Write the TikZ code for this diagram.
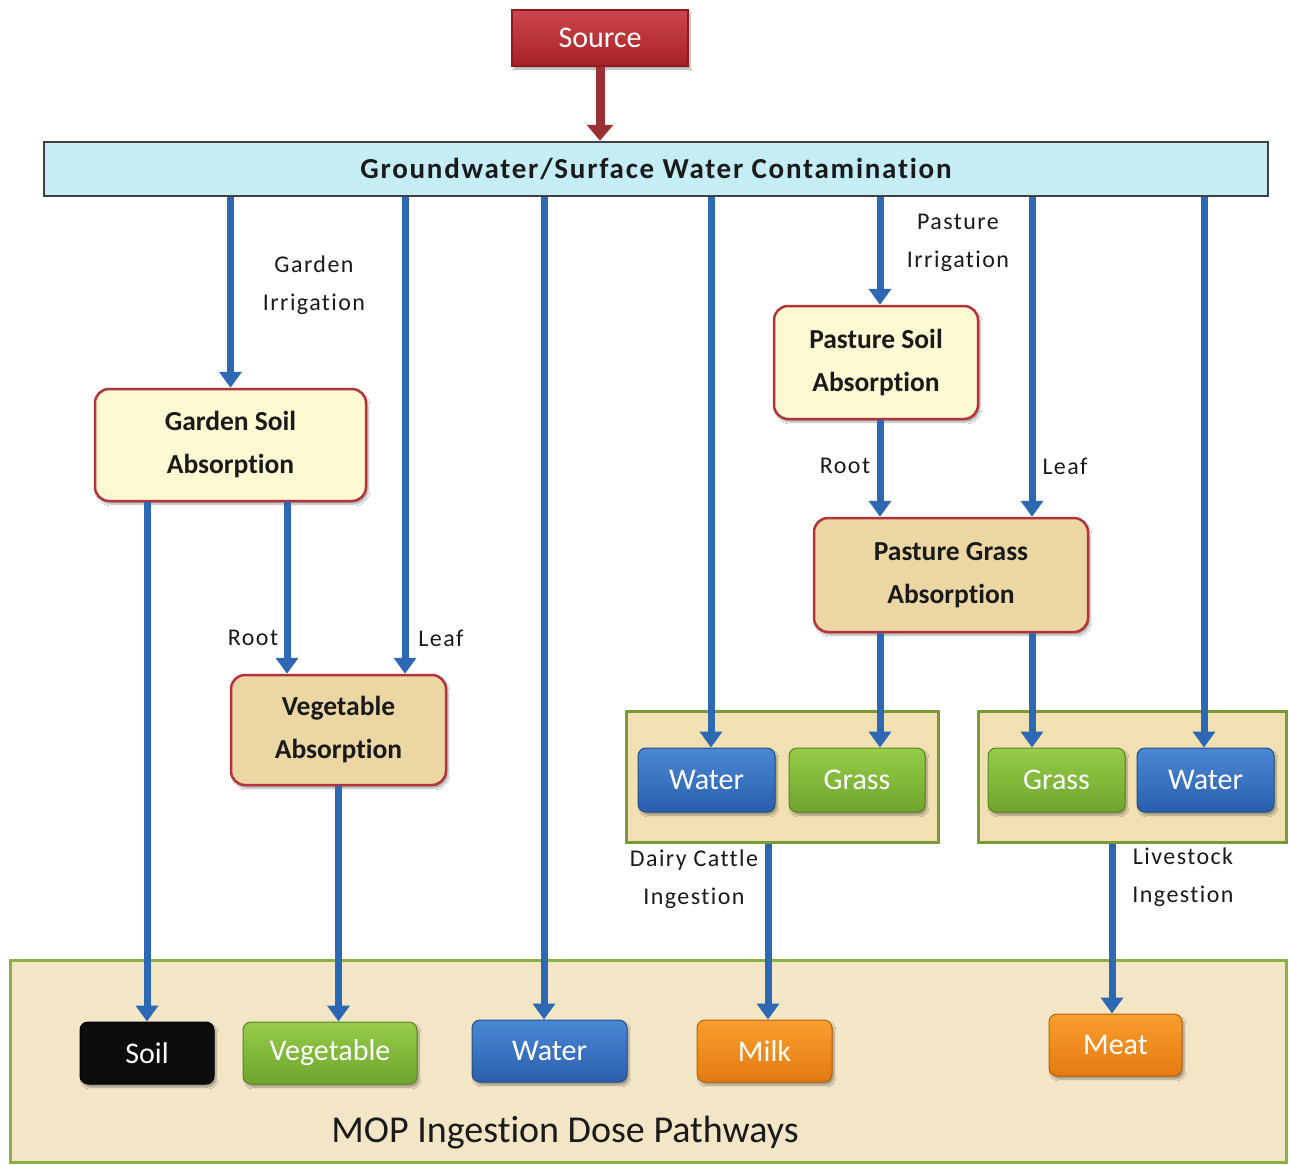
\documentclass[tikz,border=0pt]{standalone}
\usepackage{fontspec}
\setmainfont[Ligatures=NoCommon]{Carlito}
\newfontfamily\lblfont[LetterSpace=6,Ligatures=NoCommon]{Carlito}
\usetikzlibrary{arrows.meta,shadows.blur}
\definecolor{srcred}{HTML}{C4262E}
\definecolor{srcdark}{HTML}{8E1A1F}
\definecolor{gwfill}{HTML}{C4EDF5}
\definecolor{yelfill}{HTML}{FCF9D3}
\definecolor{tanfill}{HTML}{EBD6A4}
\definecolor{redline}{HTML}{B4323A}
\definecolor{grpfill}{HTML}{F0E0B2}
\definecolor{grpline}{HTML}{7A9A35}
\definecolor{botfill}{HTML}{F3E6C6}
\definecolor{botline}{HTML}{8BB043}
\definecolor{bluetop}{HTML}{4A88D4}
\definecolor{bluebot}{HTML}{2A5FAE}
\definecolor{greentop}{HTML}{96CC48}
\definecolor{greenbot}{HTML}{6FA52E}
\definecolor{orangetop}{HTML}{FA9E2E}
\definecolor{orangebot}{HTML}{E37A10}
\definecolor{arrblue}{HTML}{2C68B4}
\definecolor{txt}{HTML}{1A1A1A}
\tikzset{
  shd/.style={blur shadow={shadow blur steps=6,shadow xshift=2pt,shadow yshift=-3pt,shadow opacity=35}},
  absbox/.style={draw=redline,line width=2.5pt,rounded corners=14pt,align=center,text=txt,
     font=\bfseries\fontsize{27.5}{43}\selectfont,inner sep=0pt,shd},
  yelbox/.style={absbox,fill=yelfill},
  tanbox/.style={absbox,fill=tanfill},
  grpbox/.style={draw=grpline,line width=3pt,fill=grpfill,inner sep=0pt},
  pill/.style={rounded corners=8pt,text=white,font=\fontsize{30}{32}\selectfont,inner sep=0pt,
     minimum width=137pt,minimum height=64pt,shd},
  bluebox/.style={pill,top color=bluetop,bottom color=bluebot,draw=bluebot!80!black,line width=1pt},
  greenbox/.style={pill,top color=greentop,bottom color=greenbot,draw=greenbot!80!black,line width=1pt},
  orangebox/.style={pill,top color=orangetop,bottom color=orangebot,draw=orangebot!80!black,line width=1pt},
  blackbox/.style={pill,fill=black!95,draw=black,line width=1pt},
  arr/.style={draw=arrblue,line width=7pt,-{Triangle[width=22pt,length=16pt]}},
  redarr/.style={draw=srcdark!90,line width=9pt,-{Triangle[width=26pt,length=16pt]}},
  lbl/.style={align=center,text=txt,font=\lblfont\fontsize{24}{38}\selectfont,inner sep=0pt},
}
\begin{document}
\begin{tikzpicture}[x=1pt,y=-1pt]
\useasboundingbox[fill=white] (0,0) rectangle (1289,1164);

% Bottom container
\node[draw=botline,line width=3pt,fill=botfill,minimum width=1276pt,minimum height=202pt,inner sep=0pt] (bottom) at (648,1061) {};
\node[text=txt,font=\fontsize{38}{42}\selectfont,inner sep=0pt] (mop) at (565,1133) {MOP Ingestion Dose Pathways};

% Source
\node[top color=srcred!85!white,bottom color=srcred!85!black,draw=srcdark,line width=2pt,
      minimum width=176pt,minimum height=56pt,inner sep=0pt,text=white,
      font=\fontsize{30}{32}\selectfont,shd] (src) at (600,38) {Source};

% Groundwater bar
\node[draw=black!75,line width=2.5pt,fill=gwfill,minimum width=1224pt,minimum height=54pt,inner sep=0pt,
      text=txt,font=\bfseries\lblfont\fontsize{29}{32}\selectfont] (gw) at (656,169) {Groundwater/Surface Water Contamination};

% Absorption boxes
\node[yelbox,minimum width=271pt,minimum height=112pt] (gsoil) at (230.5,445) {Garden Soil\\Absorption};
\node[tanbox,minimum width=215pt,minimum height=110pt] (vegabs) at (338.5,730) {Vegetable\\Absorption};
\node[yelbox,minimum width=204pt,minimum height=113pt] (psoil) at (876,362.5) {Pasture Soil\\Absorption};
\node[tanbox,minimum width=274pt,minimum height=114pt] (pgrass) at (951,575) {Pasture Grass\\Absorption};

% Group boxes
\node[grpbox,minimum width=312pt,minimum height=131pt] (dairy) at (782,776.5) {};
\node[grpbox,minimum width=308pt,minimum height=131pt] (live) at (1132,776.5) {};
\node[bluebox] (dwater) at (706.5,780) {Water};
\node[greenbox,minimum width=136pt] (dgrass) at (857,780) {Grass};
\node[greenbox] (lgrass) at (1056.5,780) {Grass};
\node[bluebox] (lwater) at (1205.5,780) {Water};

% Bottom pathway boxes
\node[blackbox,minimum width=134pt,minimum height=62pt] (soil) at (147,1053) {Soil};
\node[greenbox,minimum width=174pt,minimum height=62pt] (vegb) at (330,1053) {Vegetable};
\node[bluebox,minimum width=155pt,minimum height=62pt] (waterb) at (549.5,1051) {Water};
\node[orangebox,minimum width=135pt,minimum height=62pt] (milk) at (764.5,1051) {Milk};
\node[orangebox,minimum width=133pt,minimum height=62pt] (meat) at (1115.5,1045) {Meat};

% Labels
\node[lbl] (girr) at (314,285) {Garden\\Irrigation};
\node[lbl] (groot) at (253,638) {Root};
\node[lbl] (gleaf) at (441,638) {Leaf};
\node[lbl] (pirr) at (958,243) {Pasture\\Irrigation};
\node[lbl] (proot) at (845,466) {Root};
\node[lbl] (pleaf) at (1065,466) {Leaf};
\node[lbl] (dlbl) at (694,879) {Dairy Cattle\\Ingestion};
\node[lbl] (llbl) at (1183,877) {Livestock\\Ingestion};

% Connector end coordinates
\coordinate (vegleaf) at ([xshift=66.5pt]vegabs.north);
\coordinate (vegroot) at ([xshift=-51.5pt]vegabs.north);
\coordinate (win) at ([xshift=-5.5pt]waterb.north);
\coordinate (dwin) at ([xshift=4.5pt]dwater.north);
\coordinate (psin) at ([xshift=4pt]psoil.north);
\coordinate (pgroot) at ([xshift=-71pt]pgrass.north);
\coordinate (pgleaf) at ([xshift=81pt]pgrass.north);
\coordinate (dgin) at ([xshift=23pt]dgrass.north);
\coordinate (lgin) at ([xshift=-24.5pt]lgrass.north);
\coordinate (lwin) at ([xshift=-1.5pt]lwater.north);
\coordinate (milkin) at ([xshift=3.5pt]milk.north);
\coordinate (meatin) at ([xshift=-3.5pt]meat.north);
\coordinate (vegbin) at (vegabs.south |- vegb.north);

% Connectors
\draw[redarr] (src.south) -- (src.south |- gw.north);
\draw[arr] (gw.south -| gsoil.north) -- (gsoil.north);
\draw[arr] (gw.south -| vegleaf) -- (vegleaf);
\draw[arr] (gw.south -| win) -- (win);
\draw[arr] (gw.south -| dwin) -- (dwin);
\draw[arr] (gw.south -| psin) -- (psin);
\draw[arr] (gw.south -| pgleaf) -- (pgleaf);
\draw[arr] (gw.south -| lwin) -- (lwin);
\draw[arr] (gsoil.south -| soil.north) -- (soil.north);
\draw[arr] (gsoil.south -| vegroot) -- (vegroot);
\draw[arr] (vegabs.south) -- (vegbin);
\draw[arr] (psoil.south -| pgroot) -- (pgroot);
\draw[arr] (pgrass.south -| dgin) -- (dgin);
\draw[arr] (pgrass.south -| lgin) -- (lgin);
\draw[arr] (dairy.south -| milkin) -- (milkin);
\draw[arr] (live.south -| meatin) -- (meatin);
\end{tikzpicture}
\end{document}
